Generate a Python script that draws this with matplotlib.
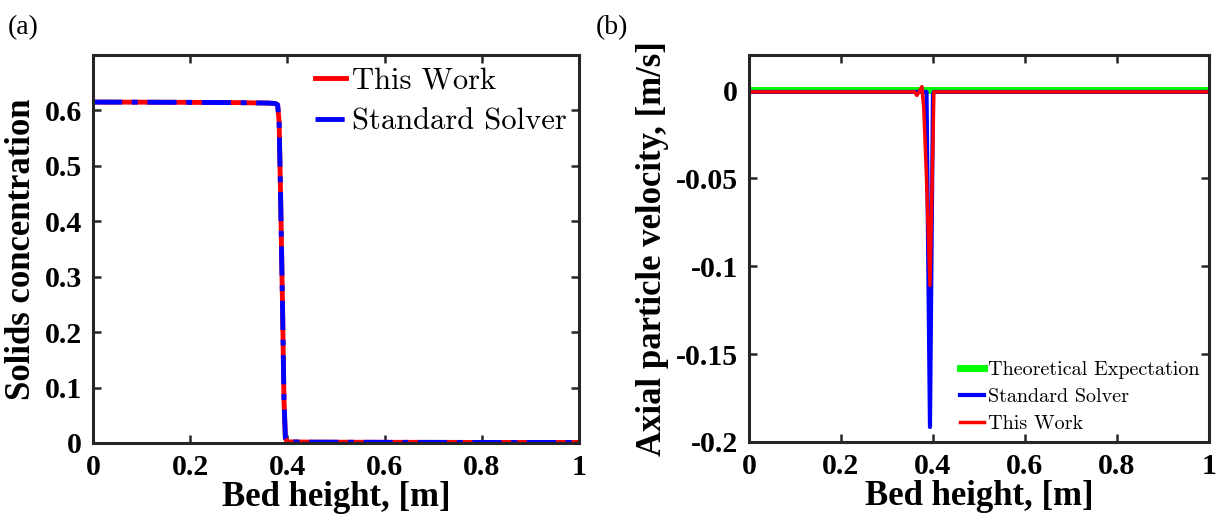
import numpy as np
import matplotlib
matplotlib.use("Agg")
from matplotlib import pyplot as plt

# (a) solids concentration along the bed
height_a = [0.0, 0.10, 0.20, 0.30, 0.36, 0.375, 0.380, 0.383, 0.386, 0.390, 0.393, 0.396, 0.400, 0.45, 0.60, 0.80, 1.0]
conc_this_work = [0.615, 0.6148, 0.6145, 0.614, 0.6132, 0.6125, 0.610, 0.58, 0.45, 0.25, 0.08, 0.008, 0.002, 0.0015, 0.0012, 0.001, 0.001]
conc_standard = [0.615, 0.6148, 0.6145, 0.614, 0.6132, 0.6125, 0.610, 0.58, 0.45, 0.25, 0.08, 0.008, 0.002, 0.0015, 0.0012, 0.001, 0.001]

# (b) axial particle velocity
height_b = [0.0, 0.36, 0.365, 0.370, 0.376, 0.380, 0.386, 0.3935, 0.400, 0.402, 0.41, 1.0]
vel_theory = [0.0] * len(height_b)
vel_standard = [-0.001, -0.001, -0.001, -0.001, -0.001, -0.001, -0.001, -0.1915, -0.002, -0.001, -0.001, -0.001]
vel_this_work = [-0.001, -0.001, -0.003, -0.001, 0.002, -0.01, -0.05, -0.111, -0.03, -0.001, -0.001, -0.001]

TIMES = "Liberation Serif"
CM = "cmr10"
FRAME = "#262626"


def style_axes(ax):
    for side in ax.spines.values():
        side.set_linewidth(2.2)
        side.set_color(FRAME)
    ax.tick_params(direction="in", top=True, right=True, width=1.8, length=6,
                   color=FRAME, labelsize=21.5, pad=8)
    for lbl in ax.get_xticklabels() + ax.get_yticklabels():
        lbl.set_fontfamily(TIMES)
        lbl.set_fontweight("bold")


fig = plt.figure(figsize=(12.23, 5.29), dpi=100)
ax1 = fig.add_axes([0.076, 0.1626, 0.3974, 0.7335])
ax2 = fig.add_axes([0.6124, 0.1645, 0.3761, 0.7316])

ax1.plot(height_a, conc_this_work, color="red", linewidth=3.5, label="This Work")
ax1.plot(height_a, conc_standard, color="blue", linewidth=3.5, linestyle=(0, (6, 2, 1.2, 2)),
         label="Standard Solver")
ax1.set_xlim(0, 1)
ax1.set_ylim(0, 0.7)
ax1.set_xticks([0, 0.2, 0.4, 0.6, 0.8, 1])
ax1.set_xticklabels(["0", "0.2", "0.4", "0.6", "0.8", "1"])
ax1.set_yticks([0, 0.1, 0.2, 0.3, 0.4, 0.5, 0.6])
ax1.set_yticklabels(["0", "0.1", "0.2", "0.3", "0.4", "0.5", "0.6"])
style_axes(ax1)
ax1.set_xlabel("Bed height, [m]", fontfamily=TIMES, fontweight="bold", fontsize=25, labelpad=0)
ax1.set_ylabel("Solids concentration", fontfamily=TIMES, fontweight="bold", fontsize=25, labelpad=5)
ax1.legend(loc="upper right", frameon=False, prop={"family": CM, "size": 22},
           handlelength=1.0, handletextpad=0.2, labelspacing=0.45, borderaxespad=0.0)

ax2.plot(height_b, vel_theory, color="#00ff00", linewidth=5, label="Theoretical Expectation")
ax2.plot(height_b, vel_standard, color="blue", linewidth=3, label="Standard Solver")
ax2.plot(height_b, vel_this_work, color="red", linewidth=2.5, label="This Work")
ax2.set_xlim(0, 1)
ax2.set_ylim(-0.2, 0.02)
ax2.set_xticks([0, 0.2, 0.4, 0.6, 0.8, 1])
ax2.set_xticklabels(["0", "0.2", "0.4", "0.6", "0.8", "1"])
ax2.set_yticks([-0.2, -0.15, -0.1, -0.05, 0])
ax2.set_yticklabels(["-0.2", "-0.15", "-0.1", "-0.05", "0"])
style_axes(ax2)
ax2.set_xlabel("Bed height, [m]", fontfamily=TIMES, fontweight="bold", fontsize=25, labelpad=0)
ax2.set_ylabel("Axial particle velocity, [m/s]", fontfamily=TIMES, fontweight="bold", fontsize=25, labelpad=5)
ax2.legend(loc="lower right", frameon=False, prop={"family": CM, "size": 14.5},
           handlelength=1.2, handletextpad=0.2, labelspacing=0.45, borderaxespad=0.05)

fig.text(0.006, 0.935, "(a)", fontfamily=TIMES, fontsize=20)
fig.text(0.487, 0.935, "(b)", fontfamily=TIMES, fontsize=20)

fig.savefig("out.png", dpi=100)
